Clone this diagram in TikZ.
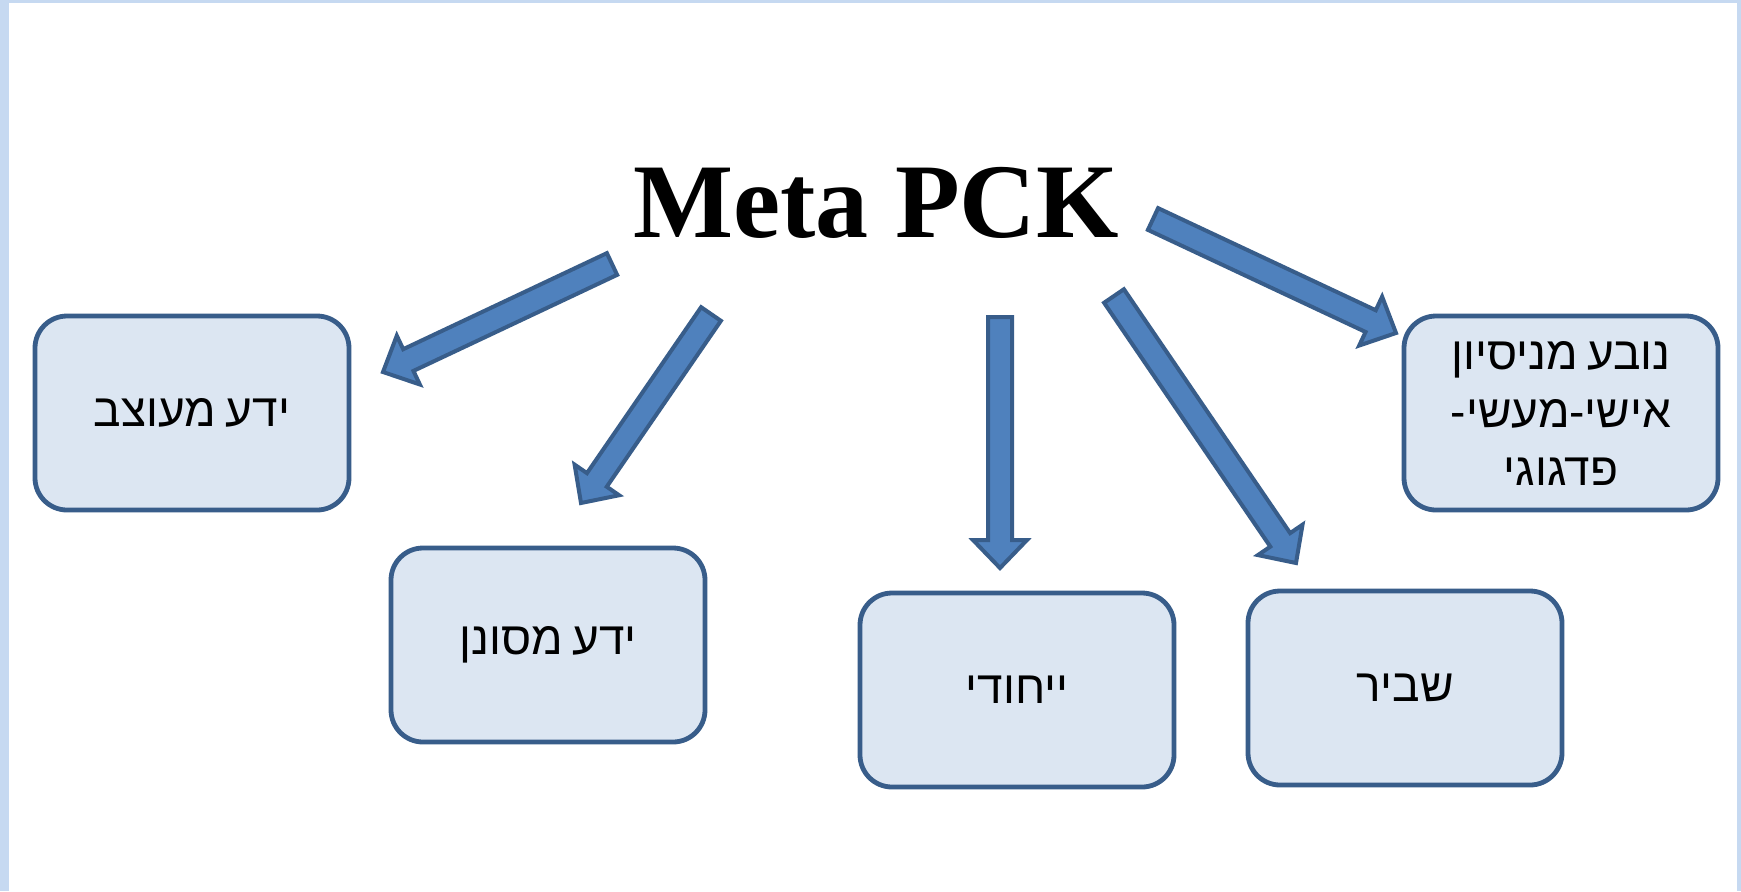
\documentclass[tikz,border=0pt]{standalone}
\usepackage{fontspec}
\setmainfont{Liberation Serif}
\newfontfamily\hebfont[Script=Hebrew,WordSpace=0.75]{Liberation Sans}
\TeXXeTstate=1
\usetikzlibrary{calc}
\definecolor{boxfill}{HTML}{DCE6F2}
\definecolor{boxline}{HTML}{385D8A}
\definecolor{arrowfill}{HTML}{4F81BD}
\definecolor{frameblue}{HTML}{C6D9F1}

\begin{document}
\begin{tikzpicture}[x=0.5pt, y=-0.5pt,
    knowbox/.style={draw=boxline, fill=boxfill, line width=2.4pt, rounded corners=16pt,
      minimum width=157pt, minimum height=97pt, align=center,
      font=\hebfont\fontsize{23}{29}\selectfont},
    blockarrow/.style={draw=boxline, fill=arrowfill, line width=2pt}]

  % Define arrow sizes
  \def\shaft{6pt}
  \def\head{13.5pt}
  \def\headlen{14pt}

  % Background frame
  \fill[frameblue] (0,0) rectangle (1741,891);
  \fill[white] (9,3) rectangle (1737,891);

  % Title
  \node[anchor=base, font=\bfseries\fontsize{53}{60}\selectfont] (meta) at (876,237) {Meta PCK};

  % Boxes
  \node[knowbox] (designed) at (192,413) {\beginR ידע מעוצב\endR};
  \node[knowbox] (filtered) at (548,645) {\beginR ידע מסונן\endR};
  \node[knowbox] (unique) at (1017,690) {\beginR ייחודי\endR};
  \node[knowbox] (fragile) at (1405,688) {\beginR שביר\endR};
  \node[knowbox] (experience) at (1561,413) {\beginR נובע מניסיון\endR\\ \beginR אישי-מעשי-\endR\\ \beginR פדגוגי\endR};

  % Arrow tails and tips
  \coordinate (t1) at (612,264); \coordinate (h1) at (383,372);
  \coordinate (t2) at (711,314); \coordinate (h2) at (581,503);
  \coordinate (t3) at (1000,317); \coordinate (h3) at (1000,568);
  \coordinate (t4) at (1114,296); \coordinate (h4) at (1296,563);
  \coordinate (t5) at (1153,219); \coordinate (h5) at (1396,333);

  % Draw the block arrows
  \foreach \s/\e in {t1/h1,t2/h2,t3/h3,t4/h4,t5/h5}{
    \coordinate (neck) at ($(\e)!\headlen!(\s)$);
    \draw[blockarrow] ($(\s)!\shaft!90:(\e)$) -- ($(neck)!\shaft!90:(\e)$) -- ($(neck)!\head!90:(\e)$)
      -- (\e) -- ($(neck)!\head!-90:(\e)$) -- ($(neck)!\shaft!-90:(\e)$) -- ($(\s)!\shaft!-90:(\e)$) -- cycle;
  }
\end{tikzpicture}
\end{document}
